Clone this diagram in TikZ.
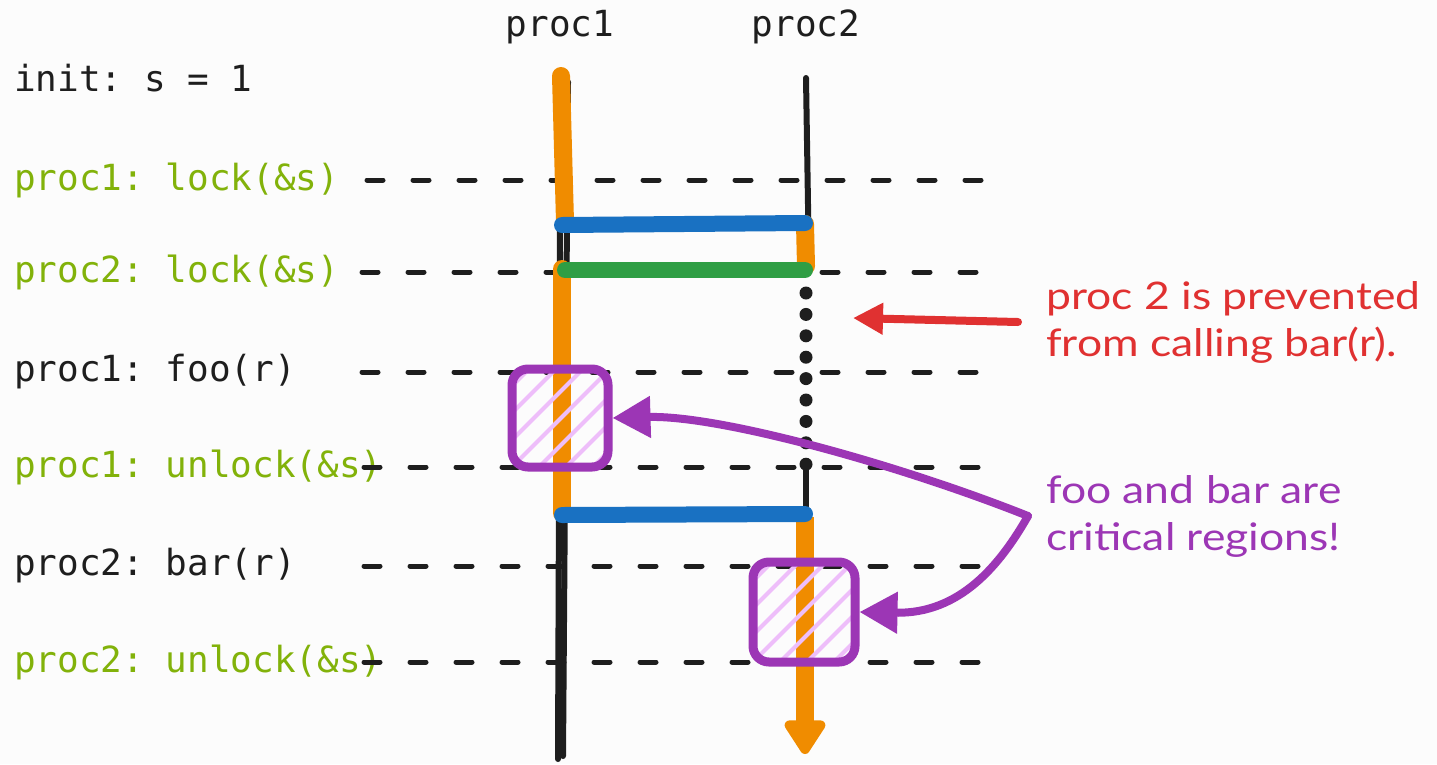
\documentclass[tikz,border=0pt]{standalone}
\usepackage{fontspec}
\setmonofont{DejaVu Sans Mono}
\newfontfamily\handfont[FakeStretch=1.17]{Lato}
\usetikzlibrary{arrows.meta}

\definecolor{bg}{HTML}{FCFCFC}
\definecolor{ink}{HTML}{1E1E1E}
\definecolor{codegreen}{HTML}{82B20A}
\definecolor{lockorange}{HTML}{F08C00}
\definecolor{lockblue}{HTML}{1971C2}
\definecolor{lockgreen}{HTML}{2F9E44}
\definecolor{notered}{HTML}{E03131}
\definecolor{critviolet}{HTML}{9C36B5}
\definecolor{hatchpink}{HTML}{EEBEFA}

\begin{document}
\begin{tikzpicture}[x=1pt,y=-1pt,
  code/.style={anchor=west, inner sep=0pt, text=ink,
    font=\ttfamily\fontsize{36}{40}\selectfont},
  codeact/.style={code, text=codegreen},
  header/.style={inner sep=0pt, text=ink, font=\ttfamily\fontsize{36}{40}\selectfont},
  guide/.style={draw=ink, line width=5pt, line cap=round, dash pattern=on 16pt off 30pt},
  life/.style={draw=ink, line width=6pt, line cap=round},
  held/.style={draw=lockorange, line width=18pt, line cap=round},
  handoff/.style={line width=16pt, line cap=round},
  region/.style={draw=critviolet, line width=9pt, rounded corners=16pt, inner sep=0pt,
    path picture={
      \foreach \k in {-6,...,6}
        \draw[hatchpink, line width=4pt]
          ([xshift=\k*27pt]path picture bounding box.south west) -- ++(220,-220);
    }},
  note/.style={anchor=west, align=left, inner sep=0pt,
    font=\handfont\fontsize{38}{47}\selectfont},
  pointer/.style={draw=critviolet, line width=8pt, line cap=round,
    -{Triangle[length=38pt,width=40pt]}},
]
% page frame
\fill[bg] (0,0) rectangle (1437,764);
\useasboundingbox (0,0) rectangle (1437,764);

% process headers
\node[header] (p1) at (560,27) {proc1};
\node[header] (p2) at (806,27) {proc2};

% program listing
\node[code]    (init)  at (14,78)  {init: s = 1};
\node[codeact] (lk1)   at (14,180) {proc1: lock(\&s)};
\node[codeact] (lk2)   at (14,272) {proc2: lock(\&s)};
\node[code]    (foo1)  at (14,372) {proc1: foo(r)};
\node[codeact] (ulk1)  at (14,467) {proc1: unlock(\&s)};
\node[code]    (bar2)  at (14,566) {proc2: bar(r)};
\node[codeact] (ulk2)  at (14,662) {proc2: unlock(\&s)};

% time guides for each statement
\foreach \y/\x in {180/367, 272/362, 372/362, 467/364, 566/364, 662/364}
  \draw[guide] (\x,\y) -- (990,\y);

% lifelines
\draw[life] (568,82) -- (563,756);
\draw[life] (560,226) -- (558,759);
\draw[life] (806,78) -- (809,268);
\foreach \k in {0,...,8}
  \fill[ink] (806,{293+\k*21.4}) circle (6.5);
\draw[life] (806,466) -- (806,515);

% lock ownership
\draw[held] (561,76) -- (565,222);
\draw[held] (805,224) -- (806,266);
\draw[held] (562,269) -- (562,513);
\draw[draw=lockorange, line width=18pt, line join=round,
      -{Triangle[length=38pt,width=46pt,round]}] (805,517) -- (805,754);

% hand-offs between the processes
\draw[handoff, lockblue] (562,225) -- (805,223);
\draw[handoff, lockgreen] (565,270) -- (805,270);
\draw[handoff, lockblue] (562,515) -- (805,514);

% critical regions
\node[region, minimum width=96pt, minimum height=98pt] (foo) at (560,418) {};
\node[region, minimum width=102pt, minimum height=100pt] (bar) at (804,612) {};

% annotations
\node[note, text=notered] (warn) at (1046,322) {proc 2 is prevented\\from calling bar(r).};
\node[note, text=critviolet] (crit) at (1046,516) {foo and bar are\\critical regions!};

\coordinate (redtail) at (1018,322);
\coordinate (redtip) at (853,318);
\draw[notered, line width=8pt, line cap=round,
      -{Triangle[length=30pt,width=30pt]}] (redtail) -- (redtip);

\coordinate (src) at (1028,516);
\draw[pointer] (src) .. controls (900,465) and (720,415) .. (foo.east);
\draw[pointer] (src) .. controls (1000,565) and (960,614) .. (bar.east);
\end{tikzpicture}
\end{document}
